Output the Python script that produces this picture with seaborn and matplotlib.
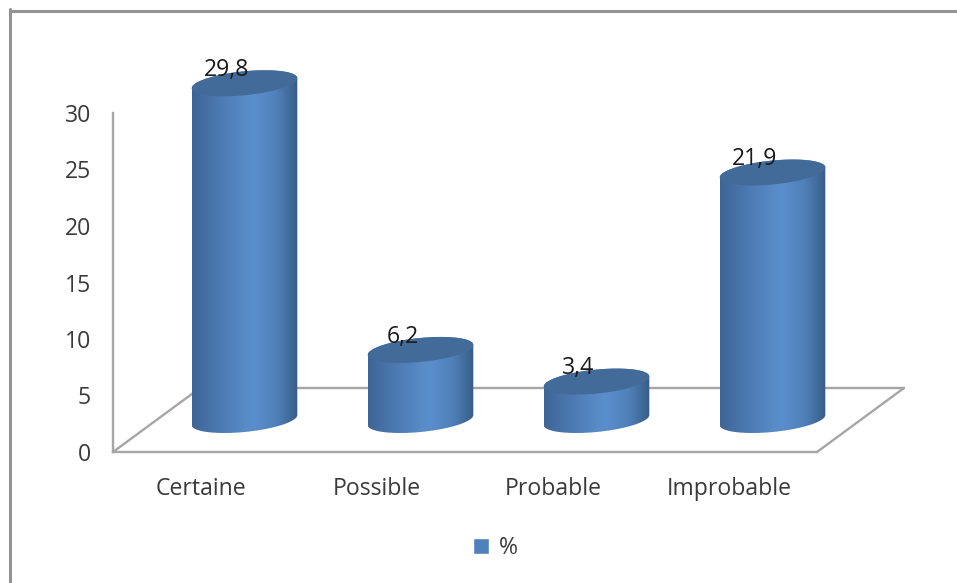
import numpy as np
import matplotlib
matplotlib.use("Agg")
import matplotlib.pyplot as plt
import pandas as pd
import seaborn as sns
from matplotlib.colors import LinearSegmentedColormap
from matplotlib.lines import Line2D
from matplotlib.patches import Patch, PathPatch
from matplotlib.path import Path
from matplotlib.transforms import Affine2D, ScaledTranslation

categories = ["Certaine", "Possible", "Probable", "Improbable"]
values = [29.8, 6.2, 3.4, 21.9]
value_labels = ["29,8", "6,2", "3,4", "21,9"]
y_ticks = [0, 5, 10, 15, 20, 25, 30]
series_name = "%"

DPI = 100
W, H = 957, 583
GREY = "#a6a6a6"
TEXT = "#3a3a3a"
FONT_SIZE = 16.6

sns.set_theme(style="white")
plt.rcParams["font.family"] = ["Open Sans", "DejaVu Sans"]

fig = plt.figure(figsize=(W / DPI, H / DPI), dpi=DPI, facecolor="white")
ax = fig.add_axes([113 / W, 1 - 452 / H, 704 / W, 339 / H])

df = pd.DataFrame({"category": categories, "value": values})
sns.barplot(data=df, x="category", y="value", ax=ax, width=0.6, color="#4f81bd")
ax.set_xlim(-0.5, 3.5)
ax.set_ylim(0, 30)
ax.set_yticks(y_ticks)
ax.set_xlabel("")
ax.set_ylabel("")
ax.tick_params(axis="y", length=0, pad=16, labelsize=FONT_SIZE, labelcolor=TEXT)
ax.tick_params(axis="x", length=0, pad=18, labelsize=FONT_SIZE, labelcolor=TEXT)
ax.patch.set_alpha(0)
for name, spine in ax.spines.items():
    spine.set_visible(name in ("left", "bottom"))
    spine.set_color(GREY)
    spine.set_linewidth(1.7)


def shift(dx_px, dy_px):
    """Data transform moved by a pixel offset, for the depth of the 3-D floor."""
    return ax.transData + ScaledTranslation(dx_px / DPI, dy_px / DPI, fig.dpi_scale_trans)


# Floor of the chart: back edge plus the two receding side edges.
FLOOR_DX, FLOOR_DY = 87, 64
ax.plot([-0.5, 3.5], [0, 0], color=GREY, lw=1.7, clip_on=False, zorder=1,
        transform=shift(FLOOR_DX, FLOOR_DY))
for xpos in (-0.5, 3.5):
    corner = Affine2D().translate(*ax.transData.transform((xpos, 0)))
    ax.add_line(Line2D([0, FLOOR_DX], [0, FLOOR_DY], color=GREY, lw=1.7,
                       clip_on=False, zorder=1, transform=corner))

# Cylinders sit halfway along the floor depth.
bar_tf = shift(FLOOR_DX / 2, FLOOR_DY / 2)
shade = LinearSegmentedColormap.from_list(
    "cylinder",
    [(0.00, "#3d6594"), (0.12, "#456fa3"), (0.35, "#5180ba"), (0.58, "#5b8fcc"),
     (0.80, "#5080b9"), (0.93, "#41699a"), (1.00, "#375b85")],
)
ramp = np.linspace(0, 1, 256).reshape(1, -1)

px_per_y = 339 / 30
SEMI_MINOR = 12.0 / px_per_y
SHEAR = 5.0 / px_per_y
t_low = np.linspace(np.pi, 2 * np.pi, 60)
t_all = np.linspace(0, 2 * np.pi, 120)


def rim(cx, cy, half, t):
    return (cx + half * np.cos(t),
            cy + SEMI_MINOR * np.sin(t) + SHEAR * np.cos(t))


bars = list(ax.patches)
for bar, text in zip(bars, value_labels):
    bar.set_visible(False)
    x0, half = bar.get_x(), bar.get_width() / 2
    cx, top = x0 + half, bar.get_height()

    bx, by = rim(cx, 0, half, t_low)
    tx, ty = rim(cx, top, half, np.linspace(0, np.pi, 60))
    outline = np.column_stack([np.r_[bx, tx], np.r_[by, ty]])
    body = Path(np.vstack([outline, outline[0]]), closed=True)

    im = ax.imshow(ramp, cmap=shade, aspect="auto", vmin=0, vmax=1, zorder=3,
                   extent=(x0, x0 + 2 * half, -3, top + 3), interpolation="bilinear")
    im.set_transform(bar_tf)
    im.set_clip_box(fig.bbox)
    im.set_clip_path(body, bar_tf)

    cap_x, cap_y = rim(cx, top, half, t_all)
    ax.add_patch(PathPatch(Path(np.column_stack([cap_x, cap_y]), closed=False),
                           facecolor="#436b9a", edgecolor="none", zorder=4,
                           transform=bar_tf, clip_on=False))
    ax.annotate(text, (cx, top), xycoords=bar_tf, xytext=(-13, 9.5),
                textcoords="offset points", ha="center", va="center",
                fontsize=FONT_SIZE, color="#1a1a1a", zorder=5, annotation_clip=False)

ax.set_xlim(-0.5, 3.5)
ax.set_ylim(0, 30)

# Outer chart frame, visible on the top and left only.
for xs, ys in (([9.5, W], [10.5, 10.5]), ([9.5, 9.5], [9, H])):
    fig.add_artist(Line2D(np.array(xs) / W, 1 - np.array(ys) / H,
                          color="#939393", lw=2.2, transform=fig.transFigure))

fig.legend(handles=[Patch(facecolor="#4f81bd", label=series_name)],
           loc="center", bbox_to_anchor=(495 / W, 1 - 548 / H), frameon=False,
           fontsize=FONT_SIZE, labelcolor=TEXT, handlelength=0.72, handleheight=0.72,
           handletextpad=0.4, borderpad=0)

fig.savefig("out.png", dpi=DPI, facecolor="white")
